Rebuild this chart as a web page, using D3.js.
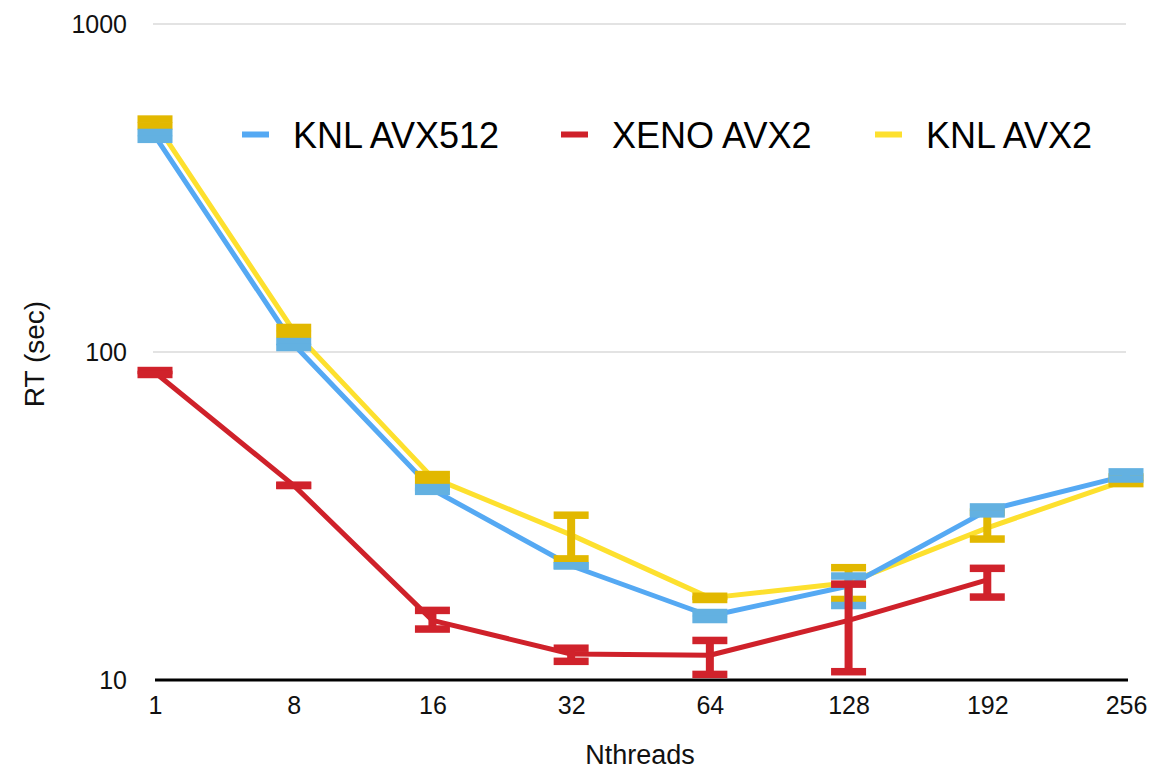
<!DOCTYPE html>
<html>
<head>
<meta charset="utf-8">
<script src="https://cdn.jsdelivr.net/npm/d3@7"></script>
<style>
  html, body { margin: 0; padding: 0; background: #fff; }
  svg { display: block; font-family: "Liberation Sans", Arial, Helvetica, sans-serif; }
</style>
</head>
<body>
<svg id="chart" width="1154" height="771"></svg>
<script>
// Thread counts on the x axis
const threads = ["1", "8", "16", "32", "64", "128", "192", "256"];

// Run time (seconds): mean plus low/high range for each thread count
const knlAvx512Mean = [455, 105.4, 38.1, 22.3, 15.67, 19.35, 32.9, 42.0];
const knlAvx512Low  = [445, 103.2, 37.6, 22.3, 15.29, 16.87, 32.1, 41.0];
const knlAvx512High = [467, 107.6, 38.6, 22.3, 16.06, 20.75, 33.7, 43.1];

const xenoAvx2Mean = [86.6, 39.2, 15.2, 12.0, 11.9, 15.2, 20.2, null];
const xenoAvx2Low  = [85.4, 39.2, 14.3, 11.4, 10.4, 10.6, 17.9, null];
const xenoAvx2High = [87.8, 39.2, 16.3, 12.5, 13.2, 19.6, 21.9, null];

const knlAvx2Mean = [501, 116, 41.4, 27.7, 17.8, 19.8, 29.1, 40.7];
const knlAvx2Low  = [489, 113.1, 40.6, 23.4, 17.6, 17.6, 26.9, 39.7];
const knlAvx2High = [513, 118.8, 42.3, 31.8, 18.0, 22.0, 32.5, 41.6];

const yTicks = [10, 100, 1000];

const seriesNames = ["KNL AVX512", "XENO AVX2", "KNL AVX2"];

const series = [
  { name: seriesNames[0], mean: knlAvx512Mean, low: knlAvx512Low, high: knlAvx512High, line: "#55a9f3", bar: "#63b1e1" },
  { name: seriesNames[1], mean: xenoAvx2Mean, low: xenoAvx2Low, high: xenoAvx2High, line: "#cf212a", bar: "#d0222b" },
  { name: seriesNames[2], mean: knlAvx2Mean, low: knlAvx2Low, high: knlAvx2High, line: "#fde02e", bar: "#e2b800" }
];

const svg = d3.select("#chart");
const plotLeft = 155, plotRight = 1126, plotTop = 24, plotBottom = 680;

const x = d3.scalePoint().domain(threads).range([plotLeft, plotRight]);
const y = d3.scaleLog().domain([10, 1000]).range([plotBottom, plotTop]);

// Horizontal gridlines
svg.append("g")
  .selectAll("line")
  .data(yTicks.filter(t => t > 10))
  .join("line")
  .attr("x1", plotLeft - 2).attr("x2", plotRight)
  .attr("y1", d => y(d)).attr("y2", d => y(d))
  .attr("stroke", "#c8c8c8").attr("stroke-width", 1.2);

// Y axis tick labels
const yAxis = d3.axisLeft(y).tickValues(yTicks).tickFormat(d3.format("d")).tickSize(0).tickPadding(28);
const yg = svg.append("g").attr("transform", `translate(${plotLeft},0)`).call(yAxis);
yg.select(".domain").remove();
yg.selectAll("text").attr("font-size", 25).attr("fill", "#111")
  .attr("font-family", "'Liberation Sans', Arial, sans-serif");

// X axis line and labels
const xAxis = d3.axisBottom(x).tickSize(0).tickPadding(16);
const xg = svg.append("g").attr("transform", `translate(0,${plotBottom})`).call(xAxis);
xg.select(".domain").attr("stroke", "#000").attr("stroke-width", 3)
  .attr("d", `M${plotLeft},0H${plotRight + 2}`);
xg.selectAll("text").attr("font-size", 25).attr("fill", "#111")
  .attr("font-family", "'Liberation Sans', Arial, sans-serif");

// Axis titles
svg.append("text")
  .attr("x", 640).attr("y", 764)
  .attr("text-anchor", "middle").attr("font-size", 27).attr("fill", "#111")
  .text("Nthreads");
svg.append("text")
  .attr("transform", "translate(44,354) rotate(-90)")
  .attr("text-anchor", "middle").attr("font-size", 28).attr("fill", "#111")
  .text("RT (sec)");

// Lines (yellow, blue, red stacking)
const drawOrder = [2, 0, 1];
const lineGen = d3.line()
  .defined(d => d.v != null)
  .x(d => x(d.t)).y(d => y(d.v));

drawOrder.forEach(i => {
  const s = series[i];
  const pts = threads.map((t, k) => ({ t, v: s.mean[k] }));
  svg.append("path")
    .datum(pts)
    .attr("d", lineGen)
    .attr("fill", "none")
    .attr("stroke", s.line)
    .attr("stroke-width", 5)
    .attr("stroke-linejoin", "round");
});

// Error bars: thick caps joined by a stem
const capW = 35, capH = 7.5, stemW = 8;
drawOrder.forEach(i => {
  const s = series[i];
  const pts = threads.map((t, k) => ({ t, lo: s.low[k], hi: s.high[k] })).filter(d => d.lo != null);
  const g = svg.append("g").attr("fill", s.bar);
  g.selectAll("rect.stem").data(pts).join("rect").attr("class", "stem")
    .attr("x", d => x(d.t) - stemW / 2)
    .attr("y", d => y(d.hi))
    .attr("width", stemW)
    .attr("height", d => y(d.lo) - y(d.hi));
  g.selectAll("rect.hi").data(pts).join("rect").attr("class", "hi")
    .attr("x", d => x(d.t) - capW / 2)
    .attr("y", d => y(d.hi) - capH / 2)
    .attr("width", capW).attr("height", capH);
  g.selectAll("rect.lo").data(pts).join("rect").attr("class", "lo")
    .attr("x", d => x(d.t) - capW / 2)
    .attr("y", d => y(d.lo) - capH / 2)
    .attr("width", capW).attr("height", capH);
});

// Legend
const legendX = [242, 561, 875];
const legend = svg.append("g");
series.forEach((s, i) => {
  legend.append("rect")
    .attr("x", legendX[i]).attr("y", 131.5)
    .attr("width", 27).attr("height", 6)
    .attr("fill", s.line);
  legend.append("text")
    .attr("x", legendX[i] + 51).attr("y", 148)
    .attr("font-size", 36).attr("fill", "#000")
    .text(s.name);
});
</script>
</body>
</html>
